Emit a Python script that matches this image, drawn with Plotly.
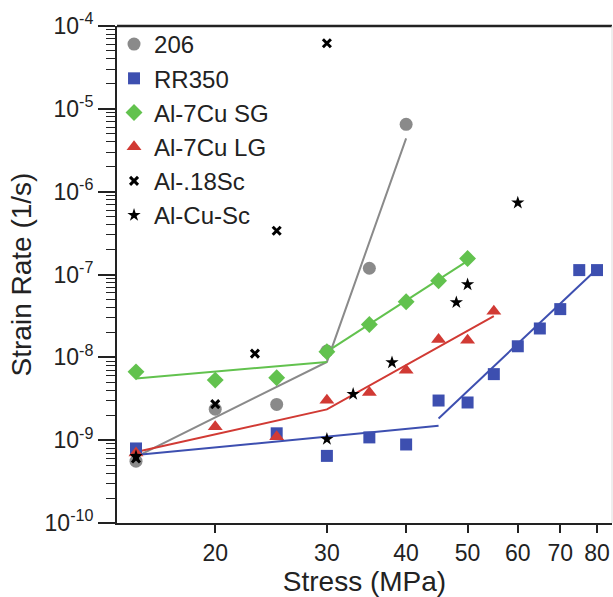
import plotly.graph_objects as go
import math

# ---------------- data ----------------
s206_x = [15, 20, 25, 30, 35, 40]
s206_y = [5.57e-10, 2.37e-9, 2.7e-9, 1.19e-8, 1.19e-7, 6.5e-6]
s206_fit_x = [15, 30, 40]
s206_fit_y = [6.3e-10, 8.8e-9, 4.4e-6]

rr_x = [15, 25, 30, 35, 40, 45, 50, 55, 60, 65, 70, 75, 80]
rr_y = [7.94e-10, 1.21e-9, 6.46e-10, 1.08e-9, 8.87e-10, 3.01e-9, 2.85e-9,
        6.27e-9, 1.36e-8, 2.23e-8, 3.82e-8, 1.13e-7, 1.13e-7]
rr_fit1_x = [15, 45]
rr_fit1_y = [6.6e-10, 1.49e-9]
rr_fit2_x = [45, 78.6]
rr_fit2_y = [1.83e-9, 1.03e-7]

sg_x = [15, 20, 25, 30, 35, 40, 45, 50]
sg_y = [6.68e-9, 5.31e-9, 5.66e-9, 1.17e-8, 2.49e-8, 4.68e-8, 8.4e-8, 1.56e-7]
sg_fit1_x = [15, 30]
sg_fit1_y = [5.56e-9, 8.8e-9]
sg_fit2_x = [30, 50]
sg_fit2_y = [1.17e-8, 1.46e-7]

lg_x = [15, 20, 25, 30, 35, 40, 45, 50, 55]
lg_y = [7.0e-10, 1.45e-9, 1.1e-9, 3.04e-9, 3.77e-9, 7.0e-9, 1.64e-8, 1.61e-8, 3.61e-8]
lg_fit_x = [15, 30, 55]
lg_fit_y = [7.2e-10, 2.35e-9, 3.15e-8]

sc_x = [15, 20, 23.1, 25, 30]
sc_y = [6.0e-10, 2.72e-9, 1.11e-8, 3.37e-7, 6.2e-5]

cusc_x = [15, 30, 33, 38, 48, 50, 60]
cusc_y = [6.4e-10, 1.03e-9, 3.6e-9, 8.67e-9, 4.6e-8, 7.58e-8, 7.35e-7]

x_ticks = [20, 30, 40, 50, 60, 70, 80]
y_exps = [-10, -9, -8, -7, -6, -5, -4]

# ---------------- style ----------------
GRAY = "#8a8a8a"
BLUE = "#3d4fb0"
GREEN = "#62c24e"
RED = "#d13a34"
FONT = "Liberation Sans, Arial, sans-serif"

fig = go.Figure()

def line(x, y, color):
    fig.add_trace(go.Scatter(x=x, y=y, mode="lines", line=dict(color=color, width=2),
                             showlegend=False, hoverinfo="skip"))

line(s206_fit_x, s206_fit_y, GRAY)
line(rr_fit1_x, rr_fit1_y, BLUE)
line(rr_fit2_x, rr_fit2_y, BLUE)
line(sg_fit1_x, sg_fit1_y, GREEN)
line(sg_fit2_x, sg_fit2_y, GREEN)
line(lg_fit_x, lg_fit_y, RED)

def pts(x, y, name, symbol, color, size, lw=0):
    fig.add_trace(go.Scatter(x=x, y=y, mode="markers", name=name,
                             marker=dict(symbol=symbol, color=color, size=size,
                                         line=dict(width=lw, color=color)),
                             cliponaxis=False))

pts(s206_x, s206_y, "206", "circle", GRAY, 13)
pts(rr_x, rr_y, "RR350", "square", BLUE, 12)
pts(sg_x, sg_y, "Al-7Cu SG", "diamond", GREEN, 13)
pts(lg_x, lg_y, "Al-7Cu LG", "triangle-up", RED, 13)
pts(sc_x, sc_y, "Al-.18Sc", "x-thin-open", "black", 8, lw=3)
pts(cusc_x, cusc_y, "Al-Cu-Sc", "star", "black", 10)

minor_vals = [m * 10.0 ** e for e in range(-10, -4) for m in range(2, 10)]

fig.update_layout(
    width=613, height=597,
    margin=dict(l=117, r=1, t=26, b=74),
    paper_bgcolor="white", plot_bgcolor="white",
    font=dict(family=FONT, size=23, color="#222"),
    legend=dict(x=-0.006, y=1.008, xanchor="left", yanchor="top",
                bgcolor="rgba(0,0,0,0)", font=dict(size=24),
                itemsizing="trace", tracegroupgap=0),
    xaxis=dict(type="log", range=[math.log10(14), 1.9267],
               tickmode="array", tickvals=x_ticks,
               ticktext=[str(v) for v in x_ticks],
               ticks="outside", ticklen=8, tickwidth=1.5, tickcolor="#222",
               showline=True, linewidth=2, linecolor="#222",
               showgrid=False, zeroline=False,
               title=dict(text="Stress (MPa)", standoff=4),
               tickfont=dict(size=23)),
    yaxis=dict(type="log", range=[-10, -4],
               tickmode="array", tickvals=[10.0 ** e for e in y_exps],
               ticktext=["10<sup>%d</sup>" % e for e in y_exps],
               ticks="outside", ticklen=17, tickwidth=1.5, tickcolor="#222",
               minor=dict(tickmode="array", tickvals=minor_vals, ticks="outside",
                          ticklen=9, tickwidth=1.2, tickcolor="#222", showgrid=False),
               showline=True, linewidth=2, linecolor="#222",
               showgrid=False, zeroline=False,
               title=dict(text="Strain Rate (1/s)", standoff=5),
               tickfont=dict(size=23)),
    shapes=[
        dict(type="line", xref="paper", yref="paper", x0=0, x1=1, y0=1, y1=1,
             line=dict(color="#222", width=2.5)),
        dict(type="line", xref="paper", yref="paper", x0=1, x1=1, y0=0, y1=1,
             line=dict(color="#dddddd", width=1)),
    ],
)

fig.write_html("out.html")
